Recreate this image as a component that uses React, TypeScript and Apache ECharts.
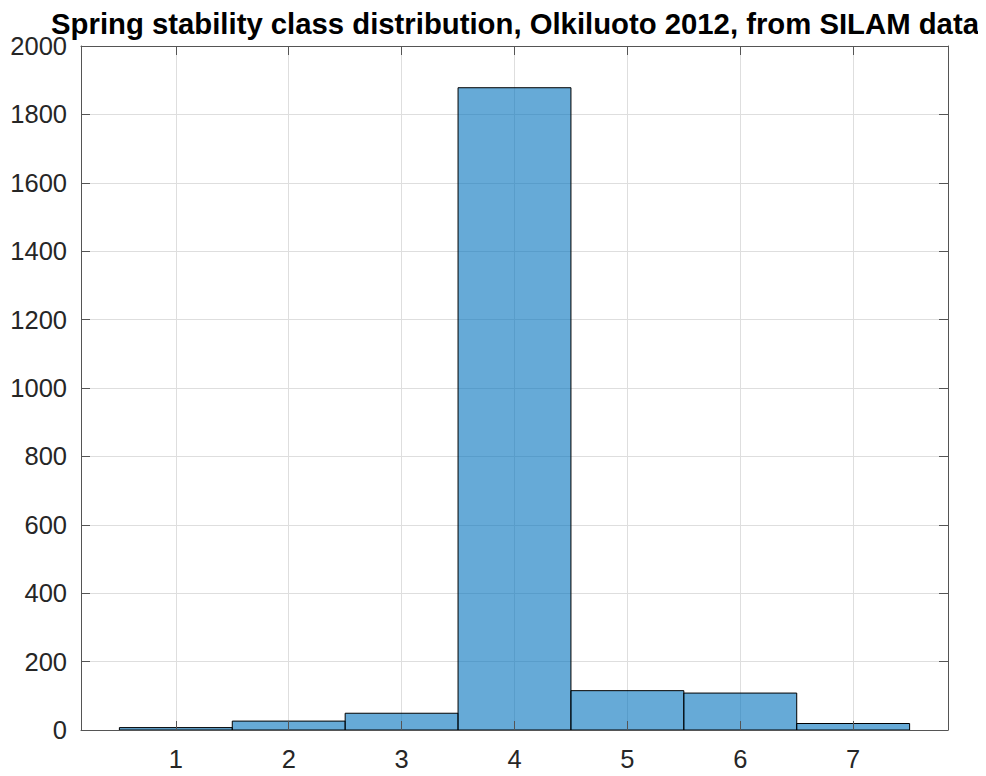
import React, { useEffect, useRef } from "react";
import * as echarts from "echarts";

const titleText = "Spring stability class distribution, Olkiluoto 2012, from SILAM data";
const classes = [1, 2, 3, 4, 5, 6, 7];
const counts = [7, 26, 49, 1878, 115, 108, 19];
const xTicks = [1, 2, 3, 4, 5, 6, 7];
const xMin = 0.16;
const xMax = 7.84;
const yMin = 0;
const yMax = 2000;
const yInterval = 200;

export default function App() {
  const ref = useRef<HTMLDivElement>(null);
  useEffect(() => {
    if (!ref.current) return;
    const chart = echarts.init(ref.current, null, { renderer: "svg" });
    const textColor = "#262626";
    const axisColor = "#555555";
    const fontFamily = "'Liberation Sans', Arial, sans-serif";
    const data = classes.map((c, i) => [c, counts[i]]);
    chart.setOption({
      animation: false,
      backgroundColor: "#ffffff",
      graphic: [
        {
          type: "text",
          x: 515,
          y: 23,
          z: 10,
          style: {
            text: titleText,
            align: "center",
            verticalAlign: "middle",
            fontFamily,
            fontSize: 29.3,
            fontWeight: "bold",
            fill: "#000",
          },
        },
      ],
      grid: { left: 81, right: 38, top: 46, bottom: 46, containLabel: false },
      xAxis: [
        {
          type: "value",
          position: "bottom",
          min: xMin,
          max: xMax,
          z: 5,
          axisLine: { show: true, onZero: false, lineStyle: { color: axisColor, width: 1 } },
          axisTick: { show: true, inside: true, length: 9, customValues: xTicks, lineStyle: { color: axisColor } },
          axisLabel: { customValues: xTicks, color: textColor, fontSize: 25.5, fontFamily, margin: 16, formatter: (v: number) => String(v) },
          splitLine: { show: false },
        },
        {
          type: "value",
          position: "top",
          min: xMin,
          max: xMax,
          axisLine: { show: true, onZero: false, lineStyle: { color: axisColor, width: 1 } },
          axisTick: { show: true, inside: true, length: 9, customValues: xTicks, lineStyle: { color: axisColor } },
          axisLabel: { show: false, customValues: xTicks },
          splitLine: { show: true, lineStyle: { color: "#dedede", width: 1 } },
        },
      ],
      yAxis: [
        {
          type: "value",
          position: "left",
          min: yMin,
          max: yMax,
          interval: yInterval,
          z: 5,
          axisLine: { show: true, onZero: false, lineStyle: { color: axisColor, width: 1 } },
          axisTick: { show: true, inside: true, length: 9, lineStyle: { color: axisColor } },
          axisLabel: { color: textColor, fontSize: 25.5, fontFamily, margin: 14, formatter: (v: number) => String(v) },
          splitLine: { show: false },
        },
        {
          type: "value",
          position: "right",
          min: yMin,
          max: yMax,
          interval: yInterval,
          axisLine: { show: true, onZero: false, lineStyle: { color: axisColor, width: 1 } },
          axisTick: { show: true, inside: true, length: 9, lineStyle: { color: axisColor } },
          axisLabel: { show: false },
          splitLine: { show: true, lineStyle: { color: "#dedede", width: 1 } },
        },
      ],
      series: [
        {
          type: "custom",
          xAxisIndex: 0,
          yAxisIndex: 0,
          encode: { x: 0, y: 1 },
          data,
          renderItem: (params: any, api: any) => {
            const x = api.value(0);
            const v = api.value(1);
            const p0 = api.coord([x - 0.5, v]);
            const p1 = api.coord([x + 0.5, 0]);
            return {
              type: "rect",
              shape: { x: p0[0], y: p0[1], width: p1[0] - p0[0], height: p1[1] - p0[1] },
              style: { fill: "rgba(0,114,189,0.6)", stroke: "#000000", lineWidth: 1 },
            };
          },
        },
      ],
    });
    return () => chart.dispose();
  }, []);
  return <div ref={ref} style={{ width: 986, height: 776, margin: -8 }} />;
}
